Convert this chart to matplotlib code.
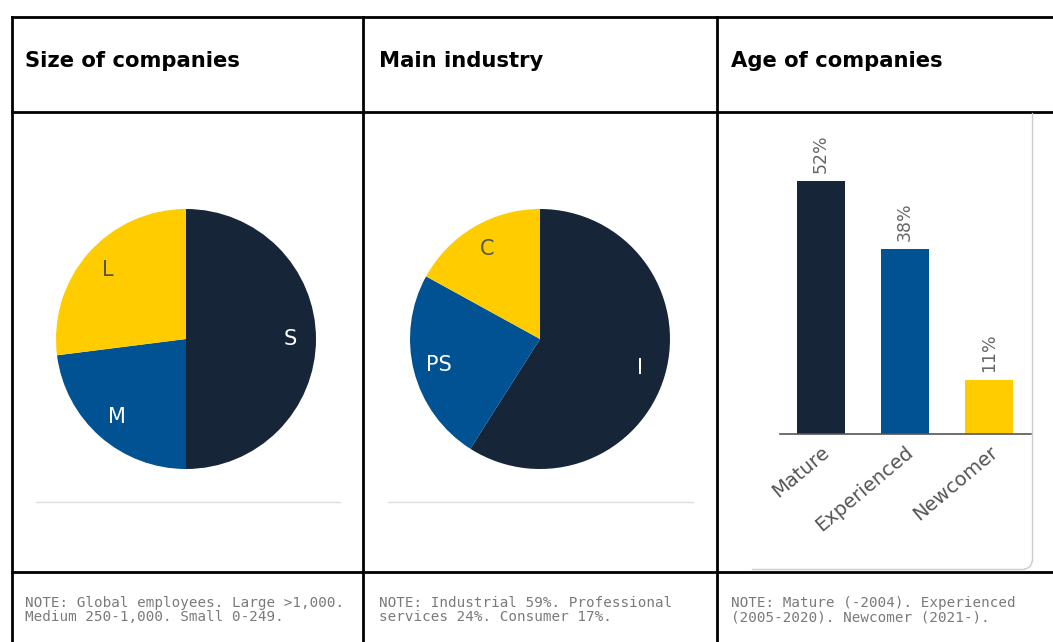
import numpy as np
import matplotlib.pyplot as plt
from matplotlib.lines import Line2D
from matplotlib.patches import Arc

# Data
size_labels = ["S", "M", "L"]
size_values = [50, 23, 27]

industry_labels = ["I", "PS", "C"]
industry_values = [59, 24, 17]

age_labels = ["Mature", "Experienced", "Newcomer"]
age_values = [52, 38, 11]

titles = ["Size of companies", "Main industry", "Age of companies"]
notes = [
    "NOTE: Global employees. Large >1,000.\nMedium 250-1,000. Small 0-249.",
    "NOTE: Industrial 59%. Professional\nservices 24%. Consumer 17%.",
    "NOTE: Mature (-2004). Experienced\n(2005-2020). Newcomer (2021-).",
]

navy = "#172538"
blue = "#005293"
yellow = "#FFCC00"
colors = [navy, blue, yellow]

W, H = 1053, 642
fig = plt.figure(figsize=(W / 100, H / 100), dpi=100)


def fx(px):
    return px / W


def fy(py):
    return 1 - py / H


# table grid
grid_kw = dict(color="black", lw=2, transform=fig.transFigure)
for y in (17, 112, 572):
    fig.add_artist(Line2D([fx(12), 1], [fy(y), fy(y)], **grid_kw))
for x in (12, 363, 717):
    fig.add_artist(Line2D([fx(x), fx(x)], [fy(17), 0], **grid_kw))

col_x = [25, 379, 731]
for x, t, n in zip(col_x, titles, notes):
    fig.text(fx(x), fy(61), t, fontsize=15.2, fontweight="bold",
             va="center", ha="left")
    fig.text(fx(x), fy(610), n, fontsize=10.3, family="DejaVu Sans Mono",
             color="#7a7a7a", va="center", ha="left", linespacing=1.05)


def draw_pie(cx, labels, values, label_colors):
    r = 130
    ax = fig.add_axes([fx(cx - r), fy(339 + r), 2 * r / W, 2 * r / H])
    wedges, texts = ax.pie(values, labels=labels, colors=colors, startangle=90,
                           counterclock=False, labeldistance=0.8,
                           wedgeprops=dict(linewidth=0),
                           textprops=dict(fontsize=15))
    for t, c in zip(texts, label_colors):
        t.set_color(c)
        t.set_ha("center")
        t.set_va("center")
    ax.set_xlim(-1, 1)
    ax.set_ylim(-1, 1)
    ax.set_aspect("equal")
    ax.axis("off")


draw_pie(186, size_labels, size_values, ["white", "white", "#555555"])
draw_pie(540, industry_labels, industry_values, ["white", "white", "#555555"])

# thin rules under the pies
for x0, x1 in ((36, 340), (388, 693)):
    fig.add_artist(Line2D([fx(x0), fx(x1)], [fy(502), fy(502)], color="#dddddd",
                          lw=1, transform=fig.transFigure))

# frame around the bar chart, rounded at the bottom right
frame_kw = dict(color="#cccccc", lw=1, transform=fig.transFigure)
rc = 8
fig.add_artist(Line2D([fx(1032), fx(1032)], [fy(113), fy(569 - rc)], **frame_kw))
fig.add_artist(Line2D([fx(752), fx(1032 - rc)], [fy(569), fy(569)], **frame_kw))
fig.add_artist(Arc((1032 - rc, H - (569 - rc)), 2 * rc, 2 * rc, theta1=270,
                   theta2=360, color="#cccccc", lw=1, transform=None))

# bar chart
ppu = (434 - 181) / age_values[0]
top_px = 118
ax = fig.add_axes([fx(780), fy(434), (1031 - 780) / W, (434 - top_px) / H])
x = np.arange(len(age_labels))
bars = ax.bar(x, age_values, width=0.57, color=colors)
ax.set_xlim(-0.49, 2.5)
ax.set_ylim(0, (434 - top_px) / ppu)
for b, v in zip(bars, age_values):
    ax.annotate(f"{v}%", (b.get_x() + b.get_width() / 2, v), xytext=(0, 6),
                textcoords="offset points", rotation=90, ha="center", va="bottom",
                fontsize=12.5, color="#666666")
ax.set_xticks(x)
ax.set_xticklabels(age_labels, rotation=40, ha="right", rotation_mode="anchor",
                   fontsize=14, color="#555555")
ax.tick_params(axis="x", length=0, pad=6)
ax.set_yticks([])
for s in ("top", "right", "left"):
    ax.spines[s].set_visible(False)
ax.spines["bottom"].set_color("#555555")
ax.spines["bottom"].set_linewidth(1.2)
ax.patch.set_alpha(0)

fig.savefig("out.png", dpi=100)
